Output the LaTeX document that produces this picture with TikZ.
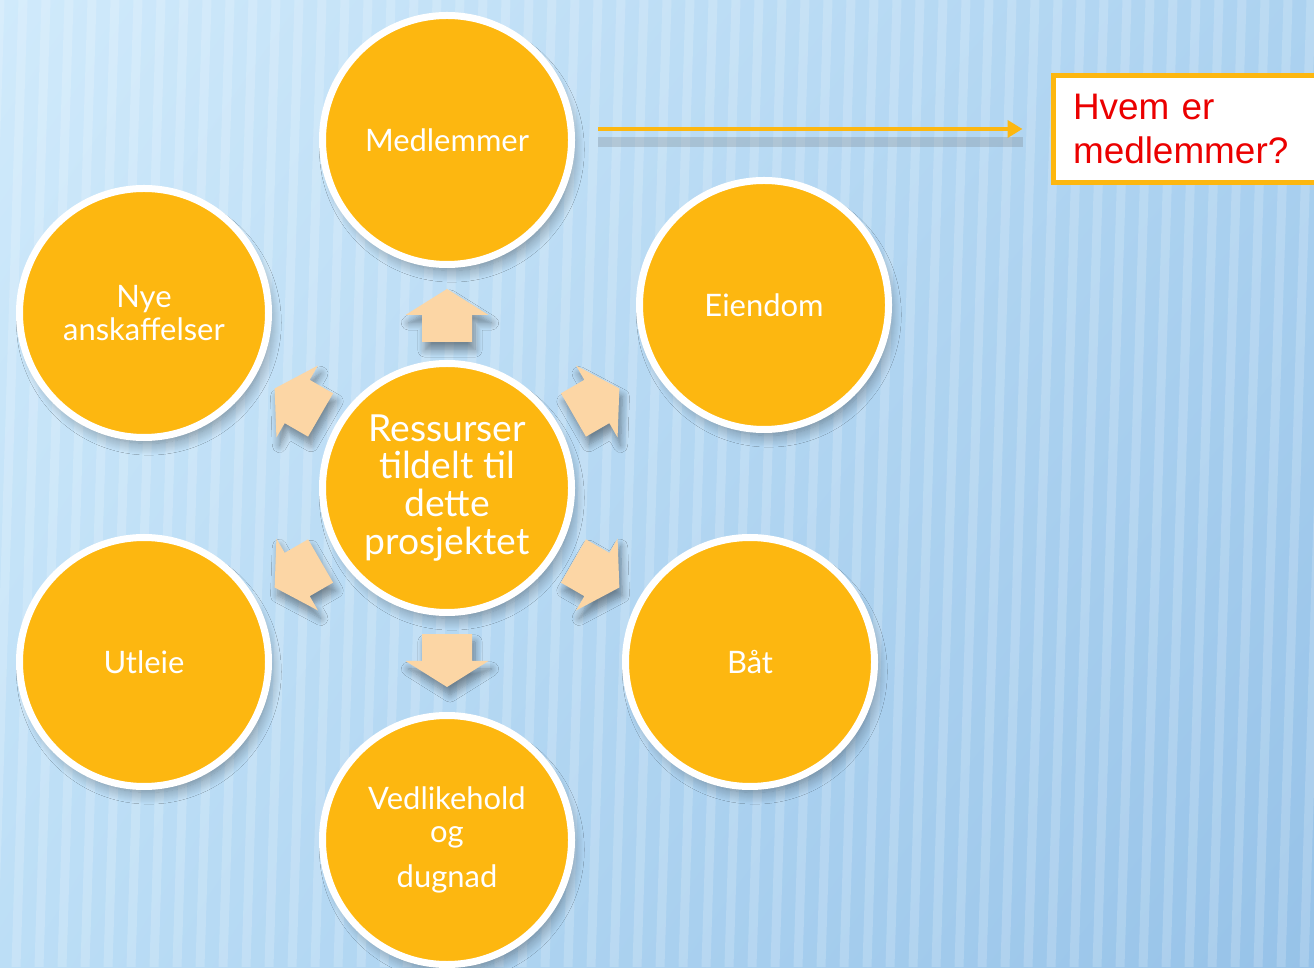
\documentclass[tikz,border=0pt]{standalone}
\usepackage{fontspec}
\setmainfont{Lato}
\newfontfamily\boxfont{Liberation Sans}
\usetikzlibrary{arrows.meta,calc,shadings,shadows.blur}

\definecolor{sunflower}{RGB}{253,183,16}
\definecolor{peach}{RGB}{252,214,165}
\definecolor{skyupper}{RGB}{208,234,251}
\definecolor{skyright}{RGB}{172,210,240}
\definecolor{skylower}{RGB}{150,194,232}
\definecolor{skyleft}{RGB}{188,222,246}
\definecolor{alertred}{RGB}{235,0,0}

\begin{document}
\begin{tikzpicture}
   [
     every node/.style = {font=\fontsize{8.8}{9.2}\selectfont},
     resource/.style   = {circle, draw=white, line width=0.07cm,
     fill=sunflower, text=white, align=center,
     minimum size=2.49cm, inner sep=0pt,
     blur shadow={shadow xshift=0.05cm, shadow yshift=-0.1cm,
     shadow scale=0.97, shadow blur steps=12,
     shadow blur radius=0.12cm, shadow opacity=40}},
     hub/.style        = {resource, font=\fontsize{10.6}{10.8}\selectfont},
     spoke/.style      = {fill=peach, blur shadow={shadow xshift=0.03cm,
     shadow yshift=-0.08cm, shadow blur steps=8, shadow opacity=40}},
     stripe/.style     = {draw=white, line width=0.09cm, opacity=0.18},
     pointer/.style    = {draw=sunflower, line width=0.04cm,
     -{Triangle[length=0.15cm, width=0.17cm]}},
     pointershade/.style = {draw=black!60, line width=0.1cm, opacity=0.22},
     question/.style   = {rectangle, draw=sunflower, line width=0.05cm,
     fill=white, text=alertred, align=left, anchor=west,
     text width=3.2cm, inner xsep=0.2cm, inner ysep=0.19cm,
     font=\boxfont\fontsize{10.5}{12.5}\selectfont}
   ]
    \clip (0,0) rectangle (13.14,9.67);

    % sky with pale ribs
    \shade[upper left=skyupper, upper right=skyright,
           lower left=skyleft, lower right=skylower] (0,0) rectangle (13.14,9.67);
    \foreach \s in {0,...,60}
      \draw[stripe] ({\s*0.23},9.67) -- ({\s*0.23-0.3},0);

    \node [hub] (res) at (4.47,4.79)
      {Ressurser\\tildelt til\\dette\\prosjektet};

    \foreach \a in {90,30,-30,-90,-150,150}
      \fill[spoke, shift={(res.center)}, rotate=\a]
        (1.46,-0.25) -- (1.73,-0.25) -- (1.73,-0.415) -- (1.99,0)
        -- (1.73,0.415) -- (1.73,0.25) -- (1.46,0.25) -- cycle;

    \node [resource] (medl)   at (4.47,8.27) {Medlemmer};
    \node [resource] (eiend)  at (7.64,6.62) {Eiendom};
    \node [resource] (baat)   at (7.50,3.05) {Båt};
    \node [resource] (vedl)   at (4.47,1.27) {Vedlikehold\\og\\[0.13cm]dugnad};
    \node [resource] (utleie) at (1.44,3.05) {Utleie};
    \node [resource] (nye)    at (1.44,6.54) {Nye\\anskaffelser};

    \node [question] (hvem) at (10.505,8.38) {Hvem er\\medlemmer?};

    \draw[pointershade] ($(medl.east |- hvem.west)+(0.23,-0.13)$)
      -- ($(hvem.west)+(-0.28,-0.13)$);
    \draw[pointer] ($(medl.east |- hvem.west)+(0.23,0)$)
      -- ($(hvem.west)+(-0.28,0)$);
\end{tikzpicture}
\end{document}
